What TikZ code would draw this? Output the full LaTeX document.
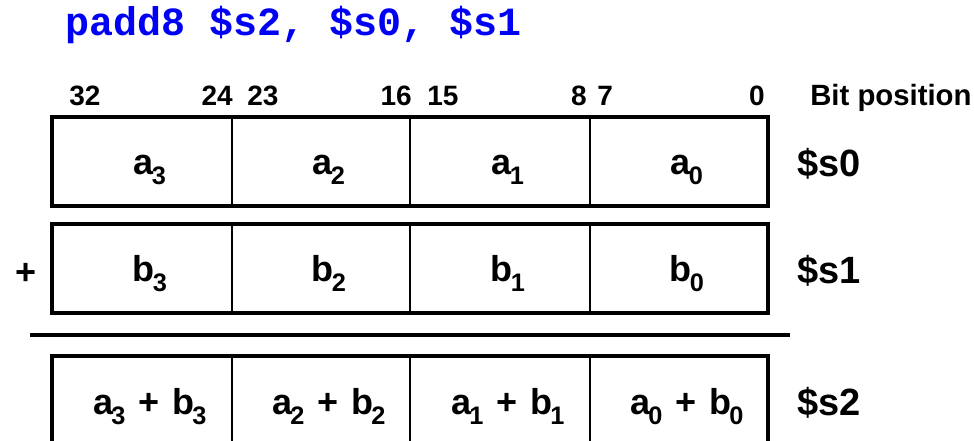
\documentclass[tikz,border=0pt]{standalone}
\usepackage{fontspec}
\usepackage{xcolor}
\setmainfont{Liberation Sans}
\newfontfamily\codefont{Liberation Mono}
\definecolor{codeblue}{RGB}{0,0,245}
\tikzstyle{frame} = [line width=2.3pt]
\tikzstyle{divider} = [line width=1pt]
\tikzstyle{cell} = [anchor=base, inner sep=0pt, font=\fontsize{27}{30}\selectfont\bfseries]
\tikzstyle{bitnum} = [inner sep=0pt, font=\fontsize{21}{24}\selectfont\bfseries]
\tikzstyle{reg} = [anchor=base west, inner sep=0pt, font=\fontsize{28.5}{32}\selectfont\bfseries]
\newcommand{\sbs}[1]{\kern-1.5pt\raisebox{-7.5pt}{\fontsize{19}{20}\selectfont #1}}
\newcommand{\plussep}{\hspace{0.36em}+\hspace{0.36em}}

\begin{document}
\begin{tikzpicture}[x=0.75pt, y=-0.75pt]
    \clip (0,0) rectangle (974,441);

    % Instruction
    \node[anchor=base west, inner sep=0pt, text=codeblue,
          font=\codefont\fontsize{30}{33}\selectfont\bfseries] (instr) at (65,36) {padd8 \$s2, \$s0, \$s1};

    % Bit positions
    \node[bitnum, anchor=base west] (bit32) at (69,106) {32};
    \node[bitnum, anchor=base east] (bit24) at (233,106) {24};
    \node[bitnum, anchor=base west] (bit23) at (247,106) {23};
    \node[bitnum, anchor=base east] (bit16) at (412,106) {16};
    \node[bitnum, anchor=base west] (bit15) at (427,106) {15};
    \node[bitnum, anchor=base east] (bit8) at (587,106) {8};
    \node[bitnum, anchor=base west] (bit7) at (597,106) {7};
    \node[bitnum, anchor=base east] (bit0) at (765,106) {0};
    \node[bitnum, anchor=base west, font=\fontsize{22}{24}\selectfont\bfseries] (bitpos) at (810,106) {Bit position};

    % Registers
    \foreach \y in {117,224,356} {
        \draw[frame] (52,\y) rectangle (768,{\y+89});
        \foreach \x in {232,410,590} {
            \draw[divider] (\x,\y) -- (\x,{\y+89});
        }
    }
    \foreach \i/\x in {3/150, 2/329, 1/508, 0/687} {
        \node[cell] (a\i) at (\x,175) {a\sbs{\i}};
        \node[cell] (b\i) at (\x,282) {b\sbs{\i}};
        \node[cell] (sum\i) at (\x,414) {a\sbs{\i}\plussep b\sbs{\i}};
    }
    \node[reg] (s0) at (797,177) {\$s0};
    \node[reg] (s1) at (797,284) {\$s1};
    \node[reg] (s2) at (797,416) {\$s2};

    % Add sign and result line
    \node[cell, anchor=center] (plus) at (26,274) {+};
    \draw[line width=3pt] (30,335) -- (790,335);
\end{tikzpicture}
\end{document}
